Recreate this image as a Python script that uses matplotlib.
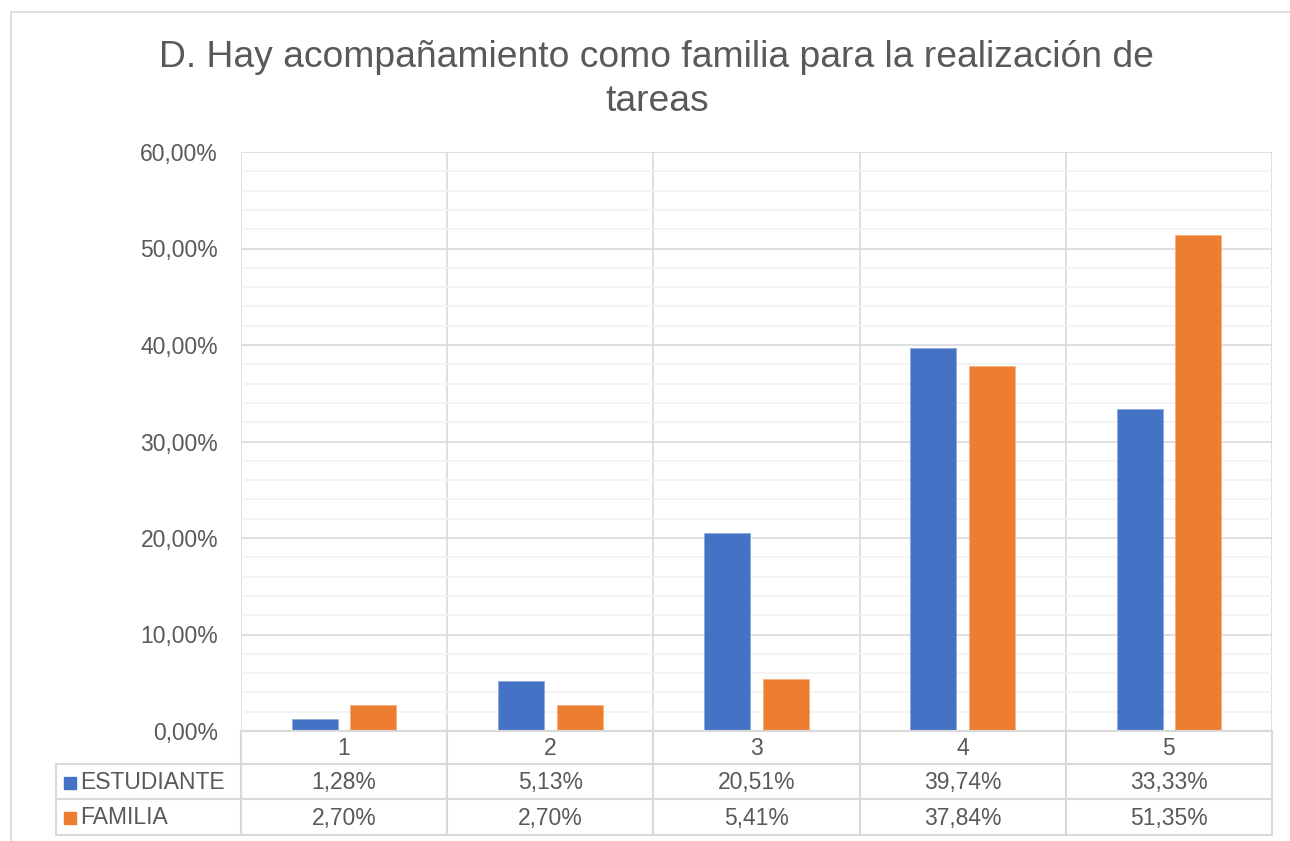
import numpy as np
import matplotlib
matplotlib.use("Agg")
import matplotlib.pyplot as plt
from matplotlib.lines import Line2D
from matplotlib.patches import Rectangle

categorias = ["1", "2", "3", "4", "5"]
estudiante = [1.28, 5.13, 20.51, 39.74, 33.33]
familia = [2.70, 2.70, 5.41, 37.84, 51.35]
series = ["ESTUDIANTE", "FAMILIA"]
colores = ["#4472C4", "#ED7D31"]
titulo = ["D. Hay acompañamiento como familia para la realización de", "tareas"]

plt.rcParams['font.family'] = ['Liberation Sans', 'DejaVu Sans']
txt = "#595959"
grid_major = "#D9D9D9"
grid_minor = "#F2F2F2"
fs = 16.5

W, H = 1290, 841
fig = plt.figure(figsize=(W / 100, H / 100), dpi=100)

# outer chart border (left and top only visible)
fig.add_artist(Line2D([11 / W, 11 / W], [0, 1 - 12 / H], color=grid_major, lw=1.2))
fig.add_artist(Line2D([11 / W, 1], [1 - 12 / H, 1 - 12 / H], color=grid_major, lw=1.2))

x0, x1 = 241, 1272
ytop, ybot = 152, 731
ax = fig.add_axes([x0 / W, 1 - ybot / H, (x1 - x0) / W, (ybot - ytop) / H])

n = len(categorias)
x = np.arange(n) + 0.5
bw = 0.223
off = 0.142
ax.bar(x - off, estudiante, bw, color=colores[0], edgecolor="#8FAADC", lw=0.6, zorder=3)
ax.bar(x + off, familia, bw, color=colores[1], edgecolor="#F4B183", lw=0.6, zorder=3)

ax.set_xlim(0, n)
ax.set_ylim(0, 60)
ax.set_yticks(np.arange(0, 61, 10))
ax.set_yticklabels([f"{v:.2f}%".replace(".", ",") for v in np.arange(0, 61, 10)],
                   fontsize=fs, color=txt)
ax.set_yticks(np.arange(0, 61, 2), minor=True)
ax.set_xticks([])
ax.tick_params(axis="y", which="both", length=0, pad=16.5)
ax.grid(axis="y", which="major", color=grid_major, lw=1.2, zorder=1)
ax.grid(axis="y", which="minor", color=grid_minor, lw=1.2, zorder=0)
for xv in range(n + 1):
    ax.axvline(xv, color=grid_major, lw=1.2, zorder=1)
for s in ax.spines.values():
    s.set_visible(False)
ax.axhline(0, color=grid_major, lw=1.5, zorder=4)

fig.text(656 / W, 1 - 67 / H, titulo[0], ha="center", va="baseline", fontsize=26.8, color=txt)
fig.text(657 / W, 1 - 111 / H, titulo[1], ha="center", va="baseline", fontsize=26.8, color=txt)

# data table
tleft, tbot = 56, 835
rows_y = [731, 764, 799, 835]
ext = (x0 - tleft) / ((x1 - x0) / n)
tax = fig.add_axes([tleft / W, 1 - tbot / H, (x1 - tleft) / W, (tbot - ybot) / H])
tax.set_xlim(-ext, n)
tax.set_ylim(tbot, ybot)
tax.axis("off")

lkw = dict(color=grid_major, lw=1.5, clip_on=False)
tax.plot([0, n], [rows_y[0]] * 2, **lkw)
for yy in rows_y[1:]:
    tax.plot([-ext, n], [yy] * 2, **lkw)
for xv in range(n + 1):
    tax.plot([xv, xv], [rows_y[0], rows_y[-1]], **lkw)
tax.plot([-ext, -ext], [rows_y[1], rows_y[-1]], **lkw)

for i, c in enumerate(categorias):
    tax.text(i + 0.5, (rows_y[0] + rows_y[1]) / 2 + 1, c, ha="center", va="center",
             fontsize=fs, color=txt)
u = (x1 - x0) / n
for r, (nombre, vals, col) in enumerate(zip(series, [estudiante, familia], colores)):
    yc = (rows_y[r + 1] + rows_y[r + 2]) / 2 + 1
    tax.add_patch(Rectangle((-ext + 8 / u, yc - 6), 12 / u, 12, color=col, clip_on=False))
    tax.text(-ext + 24 / u, yc, nombre, ha="left", va="center", fontsize=fs, color=txt)
    for i, v in enumerate(vals):
        tax.text(i + 0.5, yc, f"{v:.2f}%".replace(".", ","), ha="center", va="center",
                 fontsize=fs, color=txt)

fig.savefig("out.png", dpi=100)
